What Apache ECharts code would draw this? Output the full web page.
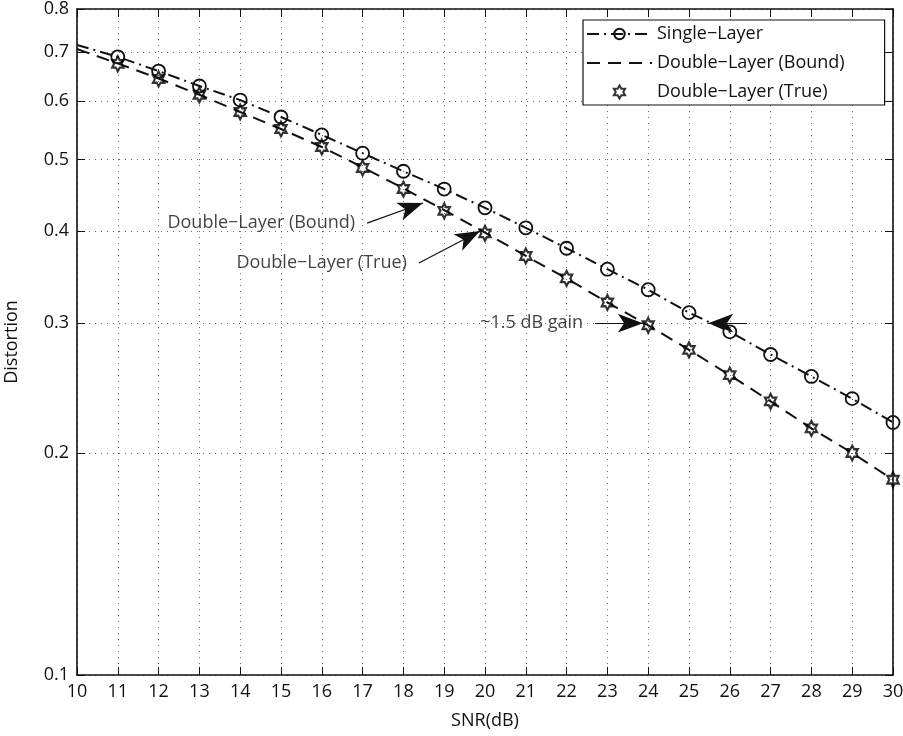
<!DOCTYPE html>
<html>
<head>
<meta charset="utf-8">
<script src="https://cdn.jsdelivr.net/npm/echarts@6/dist/echarts.min.js"></script>
<style>
  html, body { margin: 0; padding: 0; background: #fff; }
  #chart { width: 903px; height: 736px; }
</style>
</head>
<body>
<div id="chart"></div>
<script>
// SNR sweep (dB)
const snrBound = [10, 11, 12, 13, 14, 15, 16, 17, 18, 19, 20, 21, 22, 23, 24, 25, 26, 27, 28, 29, 30];
const snrMarked = [11, 12, 13, 14, 15, 16, 17, 18, 19, 20, 21, 22, 23, 24, 25, 26, 27, 28, 29, 30];

// Distortion values
const singleLayer = [0.689, 0.659, 0.629, 0.602, 0.571, 0.540, 0.510, 0.482, 0.456, 0.430,
                     0.404, 0.379, 0.355, 0.333, 0.310, 0.292, 0.272, 0.254, 0.237, 0.220];
const singleLayerStart = 0.715; // value at SNR = 10 dB (line only)
const doubleBound = [0.706, 0.675, 0.644, 0.612, 0.580, 0.550, 0.520, 0.488, 0.457, 0.427, 0.398,
                     0.370, 0.345, 0.320, 0.298, 0.276, 0.255, 0.235, 0.216, 0.200, 0.184];
const doubleTrue = [0.674, 0.643, 0.612, 0.580, 0.550, 0.520, 0.487, 0.456, 0.426, 0.397,
                    0.370, 0.345, 0.320, 0.298, 0.276, 0.255, 0.235, 0.216, 0.200, 0.184];

// Axis ticks
const yTicks = [0.1, 0.2, 0.3, 0.4, 0.5, 0.6, 0.7, 0.8];

// Annotations: [text, arrow start, arrow tip] in (SNR, distortion)
const notes = [
  ['Double\u2212Layer (Bound)', [17.11, 0.410], [18.48, 0.4366]],
  ['Double\u2212Layer (True)', [18.38, 0.362], [19.88, 0.400]],
  ['~1.5 dB gain', [22.70, 0.300], [23.87, 0.300]]
];
const gainArrowBack = [[26.42, 0.300], [25.47, 0.300]];

const HEXAGRAM = 'path://M100,0 L128.87,50 L186.6,50 L157.7,100 L186.6,150 L128.87,150 L100,200 L71.13,150 L13.4,150 L42.3,100 L13.4,50 L71.13,50 Z';
const FONT = '"Open Sans", "Noto Sans", sans-serif';
const INK = '#111';
const FS = 18;

const zip = (xs, ys) => xs.map((x, i) => [x, ys[i]]);

const singleData = [{ value: [snrBound[0], singleLayerStart], symbol: 'none' }]
  .concat(zip(snrMarked, singleLayer));

const arrowLines = notes.map(n => [{ coord: n[1] }, { coord: n[2] }])
  .concat([[{ coord: gainArrowBack[0] }, { coord: gainArrowBack[1] }]]);

const noteData = notes.map(n => ({ value: n[1], name: n[0] }));

const gridStyle = { show: true, lineStyle: { color: '#666', width: 1, type: [1, 5] } };
const frameLine = { show: true, lineStyle: { color: INK, width: 1.6 } };
const tickStyle = { show: true, inside: true, length: 8, lineStyle: { color: INK, width: 1 } };

const chart = echarts.init(document.getElementById('chart'), null, { renderer: 'canvas' });
chart.setOption({
  animation: false,
  backgroundColor: '#fff',
  grid: { left: 77, right: 10, top: 9, bottom: 61, containLabel: false, outerBoundsMode: 'none' },
  legend: {
    orient: 'vertical',
    left: 583, top: 20,
    padding: [5, 40, 4, 3],
    itemWidth: 65, itemHeight: 13, itemGap: 11,
    borderColor: INK, borderWidth: 1.2,
    backgroundColor: '#fff',
    textStyle: { fontFamily: FONT, fontSize: FS, color: INK },
    data: ['Single\u2212Layer', 'Double\u2212Layer (Bound)', 'Double\u2212Layer (True)']
  },
  xAxis: [{
    type: 'value', min: 10, max: 30, interval: 1,
    name: 'SNR(dB)', nameLocation: 'middle', nameGap: 37,
    nameTextStyle: { fontFamily: FONT, fontSize: FS, color: INK },
    axisLine: frameLine,
    axisTick: tickStyle,
    axisLabel: { fontFamily: FONT, fontSize: FS, color: INK, margin: 8 },
    splitLine: gridStyle
  }, {
    type: 'value', min: 10, max: 30, interval: 1, position: 'top',
    axisLine: frameLine,
    axisTick: tickStyle,
    axisLabel: { show: false },
    splitLine: { show: false }
  }],
  yAxis: [{
    type: 'log', logBase: 10, min: 0.1, max: 0.8,
    name: 'Distortion', nameLocation: 'middle', nameGap: 56, nameRotate: 90,
    nameTextStyle: { fontFamily: FONT, fontSize: FS, color: INK },
    axisLine: frameLine,
    axisTick: Object.assign({ customValues: yTicks }, tickStyle),
    axisLabel: { fontFamily: FONT, fontSize: FS, color: INK, margin: 8, customValues: yTicks,
                 formatter: v => (+v).toFixed(1) },
    splitLine: gridStyle
  }, {
    type: 'log', logBase: 10, min: 0.1, max: 0.8, position: 'right',
    axisLine: frameLine,
    axisTick: Object.assign({ customValues: yTicks }, tickStyle),
    axisLabel: { show: false },
    splitLine: { show: false }
  }],
  series: [
    {
      name: 'Single\u2212Layer', type: 'line', data: singleData,
      symbol: 'circle', symbolSize: 13, showAllSymbol: true,
      lineStyle: { color: INK, width: 2, type: [12, 5, 2, 5] },
      itemStyle: { color: 'transparent', borderColor: INK, borderWidth: 1.8 },
      z: 3
    },
    {
      name: 'Double\u2212Layer (Bound)', type: 'line', data: zip(snrBound, doubleBound),
      symbol: 'circle', showSymbol: false,
      lineStyle: { color: INK, width: 2, type: [13, 8] },
      itemStyle: { color: 'transparent', borderColor: 'transparent', borderWidth: 0 },
      z: 2
    },
    {
      name: 'Double\u2212Layer (True)', type: 'scatter', data: zip(snrMarked, doubleTrue),
      symbol: HEXAGRAM, symbolSize: [13, 15], symbolKeepAspect: true,
      itemStyle: { color: 'transparent', borderColor: '#000', borderWidth: 2.2 },
      z: 4
    },
    {
      name: 'notes', type: 'scatter', data: noteData,
      symbolSize: 0, silent: true,
      label: {
        show: true, position: 'left', distance: 12,
        formatter: p => p.name,
        fontFamily: FONT, fontSize: FS, color: INK
      },
      markLine: {
        silent: true, animation: false,
        symbol: ['none', 'arrow'], symbolSize: [14, 25],
        lineStyle: { color: INK, width: 1.2, type: 'solid' },
        label: { show: false },
        data: arrowLines
      },
      z: 5
    }
  ]
});
</script>
</body>
</html>
